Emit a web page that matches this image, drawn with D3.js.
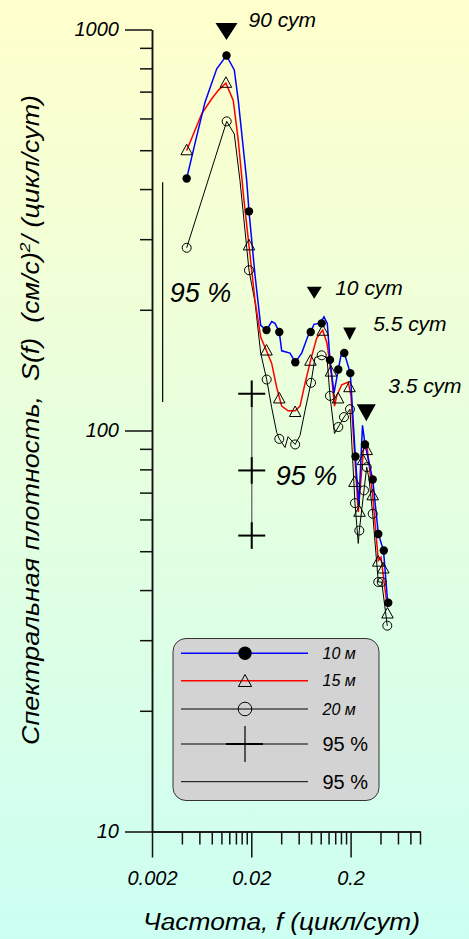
<!DOCTYPE html>
<html><head><meta charset="utf-8">
<script src="https://cdn.jsdelivr.net/npm/d3@7"></script>
<style>html,body{margin:0;padding:0;background:#fff;} svg{display:block}</style>
</head><body>
<svg id="c" width="469" height="939"></svg>
<script>
// ---------------- DATA ----------------
// [frequency (cycles/day), spectral density]
const line10m = [[0.00447,425],[0.00551,529],[0.00684,659],[0.00897,798],[0.01125,861],[0.01348,793],[0.01479,665],[0.01798,420],[0.01896,352],[0.0218,244],[0.02486,183],[0.02846,178],[0.0321,187],[0.03466,185],[0.03828,176],[0.04048,158],[0.04906,156],[0.05548,148],[0.06436,156],[0.075,173],[0.0793,176],[0.0856,184],[0.0984,185],[0.1079,192],[0.1165,185],[0.124,150],[0.1361,124],[0.1504,142],[0.1627,157],[0.1728,156],[0.1986,139],[0.223,86.6],[0.2418,65],[0.2636,103],[0.2792,92.5],[0.334,75.5],[0.38,55.4],[0.429,50.2],[0.4728,37.2]];
const pts10m = [[0.00447,425],[0.01125,861],[0.01896,352],[0.02846,178],[0.03828,176],[0.05548,148],[0.0793,176],[0.1023,185],[0.124,150],[0.1504,142],[0.1728,156],[0.1986,139],[0.224,86.1],[0.2792,92.3],[0.334,75.5],[0.38,55.2],[0.432,50.2],[0.479,37.2]];

const line15m = [[0.00447,499],[0.00633,616],[0.00799,672],[0.0093,705],[0.0111,735],[0.01317,665],[0.01479,529],[0.01688,375],[0.01896,289],[0.0218,211],[0.02486,171],[0.02846,158],[0.0321,147],[0.03604,128],[0.04048,115],[0.04684,112],[0.05548,112],[0.06188,115],[0.06948,131],[0.0793,150],[0.0911,170],[0.1047,178],[0.1157,165],[0.129,136],[0.1377,115],[0.1449,122],[0.1627,130],[0.1896,132],[0.2018,122],[0.239,62.6],[0.2698,90.2],[0.2878,94.4],[0.334,68.8],[0.38,47.4],[0.4048,48.3],[0.4684,36.3]];
const pts15m = [[0.00447,499],[0.0111,735],[0.01896,289],[0.02846,158],[0.03828,120],[0.0553,111],[0.0789,149],[0.1047,177],[0.1269,140],[0.1497,120],[0.195,128],[0.219,74.3],[0.2458,62.6],[0.2666,84.2],[0.2906,89.2],[0.334,68.8],[0.38,47],[0.427,45.2],[0.4706,34.9]];

const line20m = [[0.00447,285.5],[0.01131,590],[0.01348,549],[0.01539,420],[0.01896,251],[0.0218,209],[0.02486,156],[0.02858,134],[0.0321,114],[0.03604,98.9],[0.03828,95.3],[0.0437,90.7],[0.0469,96.5],[0.0553,92.3],[0.06188,97.2],[0.06948,112],[0.0799,131.5],[0.0876,152],[0.1023,154],[0.1157,152],[0.124,122],[0.1377,98.3],[0.1504,102],[0.1716,108],[0.1972,113],[0.2214,65.9],[0.239,52.3],[0.2448,56.3],[0.2728,70.9],[0.2906,81],[0.3064,75.9],[0.334,62],[0.38,41.9],[0.4115,41.9],[0.4684,32.6]];
const pts20m = [[0.00447,285.5],[0.01131,590],[0.01896,251],[0.02858,134],[0.03828,95.3],[0.0553,92.3],[0.0799,131.5],[0.1023,154],[0.124,122],[0.1504,102],[0.1716,108],[0.1972,113],[0.2214,65.9],[0.2448,56.3],[0.2728,70.9],[0.2906,81],[0.334,62],[0.38,41.9],[0.4115,41.9],[0.4684,32.6]];

// spectral peaks (period labels), marker frequency and level of the arrow tip
const peakLabels = ["90 сут","10 сут","5.5 сут","3.5 сут"];
const peakFreq   = [0.01125, 0.086, 0.1958, 0.2878];
const peakLevel  = [942, 213, 168, 105.5];

// 95% confidence intervals
const ciCrossFreq   = 0.0202;
const ciCrossLevels = [123.5, 79.5, 54.7];
const ciBarFreq     = 0.00256;
const ciBarRange    = [117.7, 416];

// axes
const xTickMajor = [0.002, 0.02, 0.2];
const xTickLabels = ["0.002","0.02","0.2"];
const xTickMinor = [0.004,0.006,0.008,0.01,0.012,0.014,0.016,0.018,0.04,0.06,0.08,0.1,0.12,0.14,0.16,0.18,0.4,0.6,0.8,1.0];
const yTickMajor = [10, 100, 1000];
const yTickMinor = [20,30,40,50,60,70,80,90,200,300,400,500,600,700,800,900];
const legendLabels = ["10 м","15 м","20 м","95 %","95 %"];
const xTitle = "Частота, f (цикл/сут)";

// ---------------- DRAWING ----------------
const W = 469, H = 939;
const FONT = "'Liberation Sans', Arial, Helvetica, sans-serif";
const svg = d3.select('#c');
const defs = svg.append('defs');
const grad = defs.append('linearGradient').attr('id','bg').attr('x1',0).attr('y1',0).attr('x2',0).attr('y2',1);
grad.append('stop').attr('offset','0%').attr('stop-color','#FFFFCC');
grad.append('stop').attr('offset','100%').attr('stop-color','#CCFFF2');
svg.append('rect').attr('width',W).attr('height',H).attr('fill','url(#bg)');

const x = d3.scaleLog().domain([0.002, 1]).range([152, 420]);
const y = d3.scaleLog().domain([10, 1000]).range([831.5, 29.5]);

function styleAxis(g){
  g.selectAll('path.domain').attr('stroke','#111').attr('stroke-width',1.5);
  g.selectAll('.tick line').attr('stroke','#111').attr('stroke-width',1.5);
  g.selectAll('text').attr('font-family',FONT).attr('font-style','italic').attr('font-size',20).attr('fill','#000');
}
// y axis
svg.append('g').attr('transform','translate(152,0)')
  .call(d3.axisLeft(y).tickValues(yTickMinor).tickSize(12).tickSizeOuter(0).tickFormat(''))
  .call(styleAxis);
svg.append('g').attr('transform','translate(152,0)')
  .call(d3.axisLeft(y).tickValues(yTickMajor).tickSize(27).tickSizeOuter(0).tickPadding(6).tickFormat(d=>String(d)))
  .call(styleAxis);
// x axis
svg.append('g').attr('transform','translate(0,831.5)')
  .call(d3.axisBottom(x).tickValues(xTickMinor).tickSize(13).tickSizeOuter(0).tickFormat(''))
  .call(styleAxis);
svg.append('g').attr('transform','translate(0,831.5)')
  .call(d3.axisBottom(x).tickValues(xTickMajor).tickSize(26).tickSizeOuter(0).tickPadding(13).tickFormat((d,i)=>xTickLabels[i]))
  .call(styleAxis);

// axis titles
svg.append('text').attr('x',281.5).attr('y',930).attr('text-anchor','middle')
  .attr('font-family',FONT).attr('font-style','italic').attr('font-size',23)
  .attr('textLength',277).attr('lengthAdjust','spacingAndGlyphs').text(xTitle);
const yt = svg.append('text').attr('transform','translate(39,420) rotate(-90)').attr('text-anchor','middle')
  .attr('font-family',FONT).attr('font-style','italic').attr('font-size',23).style('white-space','pre')
  .attr('textLength',650).attr('lengthAdjust','spacingAndGlyphs');
yt.append('tspan').text('Спектральная плотность,  S(f)  (см/с)');
yt.append('tspan').attr('font-size',15).attr('dy',-9).text('2');
yt.append('tspan').attr('dy',9).text('/ (цикл/сут)');

// confidence bar (left)
svg.append('line').attr('x1',x(ciBarFreq)).attr('x2',x(ciBarFreq))
  .attr('y1',y(ciBarRange[1])).attr('y2',y(ciBarRange[0])).attr('stroke','#000').attr('stroke-width',1.2);
svg.append('text').attr('x',x(ciBarFreq)+7).attr('y',y(Math.sqrt(ciBarRange[0]*ciBarRange[1]))+10)
  .attr('font-family',FONT).attr('font-style','italic').attr('font-size',27).text('95 %');

// confidence crosses
const cx = x(ciCrossFreq);
svg.append('line').attr('x1',cx).attr('x2',cx)
  .attr('y1',y(d3.max(ciCrossLevels))).attr('y2',y(d3.min(ciCrossLevels)))
  .attr('stroke','#777').attr('stroke-width',1.5);
ciCrossLevels.forEach(v=>{
  const cy = y(v);
  svg.append('line').attr('x1',cx).attr('x2',cx).attr('y1',cy-13.3).attr('y2',cy+13.3).attr('stroke','#000').attr('stroke-width',2);
  svg.append('line').attr('x1',cx-13.5).attr('x2',cx+13.5).attr('y1',cy).attr('y2',cy).attr('stroke','#000').attr('stroke-width',2);
});
svg.append('text').attr('x',cx+24).attr('y',y(ciCrossLevels[1])+15)
  .attr('font-family',FONT).attr('font-style','italic').attr('font-size',27).text('95 %');

// lines
const line = d3.line().x(d=>x(d[0])).y(d=>y(d[1]));
svg.append('path').datum(line20m).attr('d',line).attr('fill','none').attr('stroke','#000').attr('stroke-width',1);
svg.append('path').datum(line15m).attr('d',line).attr('fill','none').attr('stroke','#FF0000').attr('stroke-width',1.5);
svg.append('path').datum(line10m).attr('d',line).attr('fill','none').attr('stroke','#0000FF').attr('stroke-width',1.5);

// markers
const tri = s => `M0,${-s*0.6}L${s*0.55},${s*0.4}L${-s*0.55},${s*0.4}Z`;
svg.append('g').selectAll('circle').data(pts20m).join('circle')
  .attr('cx',d=>x(d[0])).attr('cy',d=>y(d[1])).attr('r',4.5)
  .attr('fill','none').attr('stroke','#000').attr('stroke-width',1);
svg.append('g').selectAll('path').data(pts15m).join('path')
  .attr('transform',d=>`translate(${x(d[0])},${y(d[1])})`).attr('d',tri(10.5))
  .attr('fill','none').attr('stroke','#000').attr('stroke-width',1);
svg.append('g').selectAll('circle').data(pts10m).join('circle')
  .attr('cx',d=>x(d[0])).attr('cy',d=>y(d[1])).attr('r',4.2).attr('fill','#000');

// peak arrows and labels
const peakSize = [[22,17],[15,12],[13,12.6],[19,17]];
const peakLabelOffset = [[22,-12.6],[21,-4.3],[23.6,-9.3],[22,-27.7]];
peakFreq.forEach((f,i)=>{
  const px = x(f), py = y(peakLevel[i]);
  const [w,h] = peakSize[i];
  svg.append('path').attr('d',`M${px-w/2},${py-h}L${px+w/2},${py-h}L${px},${py}Z`).attr('fill','#000');
  svg.append('text').attr('x',px+peakLabelOffset[i][0]).attr('y',py+peakLabelOffset[i][1])
    .attr('font-family',FONT).attr('font-style','italic').attr('font-size',21).text(peakLabels[i]);
});

// legend
const lg = svg.append('g');
lg.append('rect').attr('x',173).attr('y',638.5).attr('width',206).attr('height',162).attr('rx',13).attr('ry',13)
  .attr('fill','#D3D3D3').attr('stroke','#333').attr('stroke-width',1);
const rowY = [653.3, 680.7, 709, 744, 781.7];
const rowColor = ['#0000FF','#FF0000','#000','#000','#000'];
rowY.forEach((ry,i)=>{
  lg.append('line').attr('x1',181).attr('x2',308).attr('y1',ry).attr('y2',ry)
    .attr('stroke',rowColor[i]).attr('stroke-width',i<2?1.5:1);
  lg.append('text').attr('x',322.5).attr('y',ry+(i<3?5.5:7))
    .attr('font-family',FONT).attr('font-style',i<3?'italic':'normal').attr('font-size',i<3?16:20).text(legendLabels[i]);
});
lg.append('circle').attr('cx',245).attr('cy',rowY[0]).attr('r',6.7).attr('fill','#000');
lg.append('path').attr('transform',`translate(245,${rowY[1]+1})`).attr('d',tri(12)).attr('fill','none').attr('stroke','#000');
lg.append('circle').attr('cx',245).attr('cy',rowY[2]).attr('r',6.8).attr('fill','none').attr('stroke','#000');
lg.append('line').attr('x1',245).attr('x2',245).attr('y1',rowY[3]-18).attr('y2',rowY[3]+18).attr('stroke','#000').attr('stroke-width',1.2);
lg.append('line').attr('x1',226).attr('x2',263).attr('y1',rowY[3]).attr('y2',rowY[3]).attr('stroke','#000').attr('stroke-width',2);
</script>
</body></html>
